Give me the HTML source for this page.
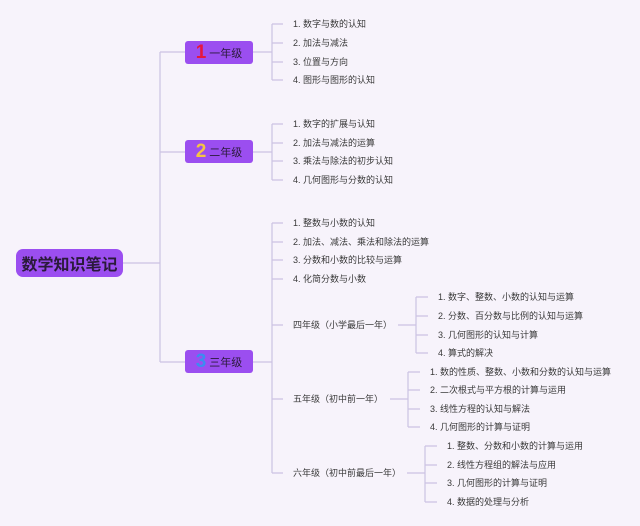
<!DOCTYPE html>
<html><head><meta charset="utf-8"><style>
body{margin:0;width:640px;height:526px;background:#f7f3fb;position:relative;overflow:hidden;font-family:"Liberation Sans","Noto Sans CJK SC",sans-serif}
svg{position:absolute;left:0;top:0}
.t{position:absolute;font-size:9px;color:#3a3a3a;white-space:nowrap;line-height:12px}
.box{position:absolute;background:#9b4ef0;border-radius:3px;color:#2a1a3a;display:flex;align-items:center;justify-content:center;white-space:nowrap}
.n{font-weight:bold;font-size:19px;margin-right:3px}
</style></head><body>
<svg width="640" height="526" fill="none" stroke="#cbc2e2" stroke-width="1.2">
<path d="M123 263H160M160 52V362M160 52H185M160 152H185M160 362H185"/>
<path d="M253 52H272M272 24V80M272 24H283M272 43H283M272 62H283M272 80H283"/>
<path d="M253 152H272M272 124V180M272 124H283M272 143H283M272 161H283M272 180H283"/>
<path d="M253 362H272M272 223V473M272 223H283M272 242H283M272 260H283M272 279H283M272 325H283M272 399H283M272 473H283"/>
<path d="M398 325H416M416 297V353M416 297H428M416 316H428M416 335H428M416 353H428"/>
<path d="M390 399H408M408 372V427M408 372H420M408 390H420M408 409H420M408 427H420"/>
<path d="M407 473H425M425 446V502M425 446H437M425 465H437M425 483H437M425 502H437"/>
</svg>
<div class="box" style="left:16px;top:249px;width:107px;height:28px;border-radius:7px;font-size:16px;font-weight:bold">数学知识笔记</div>
<div class="box" style="left:185px;top:41px;width:68px;height:23px;font-size:11px"><span class="n" style="color:#e5173f">1</span>一年级</div>
<div class="box" style="left:185px;top:140px;width:68px;height:23px;font-size:11px"><span class="n" style="color:#f5c542">2</span>二年级</div>
<div class="box" style="left:185px;top:350px;width:68px;height:23px;font-size:11px"><span class="n" style="color:#3b8cf0">3</span>三年级</div>
<div class="t" style="left:293px;top:18px">1. 数字与数的认知</div>
<div class="t" style="left:293px;top:37px">2. 加法与减法</div>
<div class="t" style="left:293px;top:56px">3. 位置与方向</div>
<div class="t" style="left:293px;top:74px">4. 图形与图形的认知</div>
<div class="t" style="left:293px;top:118px">1. 数字的扩展与认知</div>
<div class="t" style="left:293px;top:137px">2. 加法与减法的运算</div>
<div class="t" style="left:293px;top:155px">3. 乘法与除法的初步认知</div>
<div class="t" style="left:293px;top:174px">4. 几何图形与分数的认知</div>
<div class="t" style="left:293px;top:217px">1. 整数与小数的认知</div>
<div class="t" style="left:293px;top:236px">2. 加法、减法、乘法和除法的运算</div>
<div class="t" style="left:293px;top:254px">3. 分数和小数的比较与运算</div>
<div class="t" style="left:293px;top:273px">4. 化简分数与小数</div>
<div class="t" style="left:293px;top:319px">四年级（小学最后一年）</div>
<div class="t" style="left:293px;top:393px">五年级（初中前一年）</div>
<div class="t" style="left:293px;top:467px">六年级（初中前最后一年）</div>
<div class="t" style="left:438px;top:291px">1. 数字、整数、小数的认知与运算</div>
<div class="t" style="left:438px;top:310px">2. 分数、百分数与比例的认知与运算</div>
<div class="t" style="left:438px;top:329px">3. 几何图形的认知与计算</div>
<div class="t" style="left:438px;top:347px">4. 算式的解决</div>
<div class="t" style="left:430px;top:366px">1. 数的性质、整数、小数和分数的认知与运算</div>
<div class="t" style="left:430px;top:384px">2. 二次根式与平方根的计算与运用</div>
<div class="t" style="left:430px;top:403px">3. 线性方程的认知与解法</div>
<div class="t" style="left:430px;top:421px">4. 几何图形的计算与证明</div>
<div class="t" style="left:447px;top:440px">1. 整数、分数和小数的计算与运用</div>
<div class="t" style="left:447px;top:459px">2. 线性方程组的解法与应用</div>
<div class="t" style="left:447px;top:477px">3. 几何图形的计算与证明</div>
<div class="t" style="left:447px;top:496px">4. 数据的处理与分析</div>
</body></html>
